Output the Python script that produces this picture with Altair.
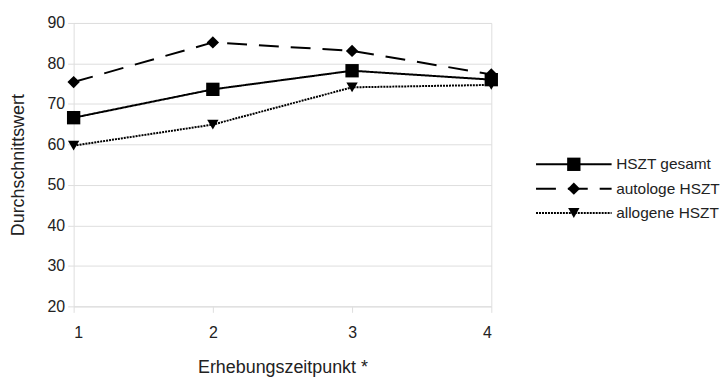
import altair as alt
import pandas as pd

# ---- data ----
zeitpunkt = [1, 2, 3, 4]
series_names = ["HSZT gesamt", "autologe HSZT", "allogene HSZT"]
hszt_gesamt = [66.6, 73.6, 78.2, 76.0]
autologe_hszt = [75.4, 85.2, 83.1, 77.3]
allogene_hszt = [59.7, 64.9, 74.1, 74.7]
y_ticks = [20, 30, 40, 50, 60, 70, 80, 90]

rows = []
for name, vals in zip(series_names, [hszt_gesamt, autologe_hszt, allogene_hszt]):
    for x, v in zip(zeitpunkt, vals):
        rows.append({"Serie": name, "x": x, "y": v})
df = pd.DataFrame(rows)

legend_df = pd.DataFrame({"Serie": series_names, "idx": [0, 1, 2],
                          "x0": [0.0] * 3, "x1": [1.0] * 3, "xm": [0.5] * 3, "xt": [1.06] * 3})

FONT = "Liberation Sans"
GRID = "#dedede"
dash_scale = alt.Scale(domain=series_names, range=[[1, 0], [20, 12], [2, 1]])
shape_scale = alt.Scale(domain=series_names, range=["square", "diamond", "triangle-down"])
size_scale = alt.Scale(domain=series_names, range=[180, 130, 130])
width_scale = alt.Scale(domain=series_names, range=[2, 2, 2.5])

xenc = alt.X("x:Q", scale=alt.Scale(domain=[1, 4], nice=False),
             axis=alt.Axis(values=zeitpunkt, format="d", grid=False, domain=False,
                           tickColor=GRID, tickSize=6, labelPadding=12,
                           title="Erhebungszeitpunkt *", titlePadding=19))
yenc = alt.Y("y:Q", scale=alt.Scale(domain=[20, 90], nice=False),
             axis=alt.Axis(values=y_ticks, grid=True, gridColor=GRID, domain=False,
                           tickColor=GRID, tickSize=6, labelPadding=3,
                           title="Durchschnittswert", titlePadding=20))

lines = alt.Chart(df).mark_line(color="black").encode(
    x=xenc, y=yenc,
    strokeDash=alt.StrokeDash("Serie:N", scale=dash_scale, legend=None),
    strokeWidth=alt.StrokeWidth("Serie:N", scale=width_scale, legend=None),
    detail="Serie:N",
)
points = alt.Chart(df).mark_point(filled=True, color="black", opacity=1).encode(
    x="x:Q", y="y:Q",
    shape=alt.Shape("Serie:N", scale=shape_scale, legend=None),
    size=alt.Size("Serie:N", scale=size_scale, legend=None),
)
main = alt.layer(lines, points).properties(width=420, height=285)

lx = alt.Scale(domain=[0, 1])
ly = alt.Scale(domain=[-5.8, 5.83], reverse=True)
leg_rule = alt.Chart(legend_df).mark_rule(color="black").encode(
    x=alt.X("x0:Q", scale=lx, axis=None), x2="x1:Q",
    y=alt.Y("idx:Q", scale=ly, axis=None),
    strokeDash=alt.StrokeDash("Serie:N", scale=dash_scale, legend=None),
    strokeWidth=alt.StrokeWidth("Serie:N", scale=width_scale, legend=None),
)
leg_pt = alt.Chart(legend_df).mark_point(filled=True, color="black", opacity=1).encode(
    x=alt.X("xm:Q", scale=lx, axis=None),
    y=alt.Y("idx:Q", scale=ly, axis=None),
    shape=alt.Shape("Serie:N", scale=shape_scale, legend=None),
    size=alt.Size("Serie:N", scale=size_scale, legend=None),
)
leg_txt = alt.Chart(legend_df).mark_text(align="left", baseline="middle", font=FONT,
                                         fontSize=15.5, color="#222").encode(
    x=alt.X("xt:Q", scale=lx, axis=None),
    y=alt.Y("idx:Q", scale=ly, axis=None),
    text="Serie:N",
)
legend = alt.layer(leg_rule, leg_pt, leg_txt).properties(width=76, height=285, view=alt.ViewConfig(stroke=None))

chart = alt.hconcat(main, legend, spacing=36).resolve_scale(
    x="independent", y="independent", strokeDash="independent", shape="independent",
    size="independent", strokeWidth="independent"
).configure_view(stroke=GRID).configure_axis(
    labelFont=FONT, titleFont=FONT, labelFontSize=16, titleFontSize=18,
    labelColor="#222", titleColor="#222", titleFontWeight="normal"
).properties(padding={"left": 0, "top": 5, "right": 0, "bottom": 0}, background="white")

chart.save("out.html", embed_options={"renderer": "svg", "actions": False})
